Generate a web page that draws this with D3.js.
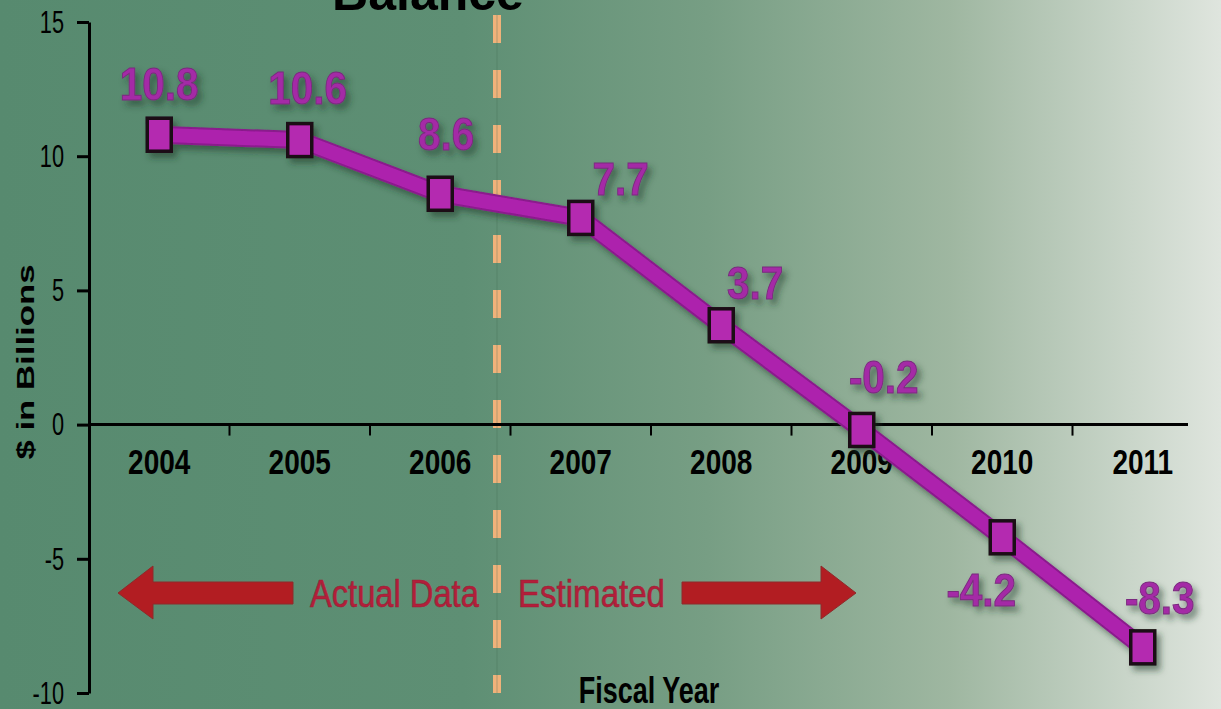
<!DOCTYPE html>
<html>
<head>
<meta charset="utf-8">
<script src="https://cdn.jsdelivr.net/npm/d3@7"></script>
<style>
  html, body { margin: 0; padding: 0; overflow: hidden; }
  svg { display: block; }
  text { font-family: "Liberation Sans", Arial, sans-serif; }
</style>
</head>
<body>
<svg id="chart"></svg>
<script>
// data
var years = ["2004", "2005", "2006", "2007", "2008", "2009", "2010", "2011"];
var balance = [10.8, 10.6, 8.6, 7.7, 3.7, -0.2, -4.2, -8.3];
var yTicks = [-10, -5, 0, 5, 10, 15];
// where each value label sits relative to its marker (dx, baseline dy)
var labelDx = [0, 8, 6, 40, 34, 22, -21, 17];
var labelDy = [-35, -36, -44, -23, -26, -37, 69, -33];

var width = 1221,
    height = 709;

var svg = d3.select("#chart")
    .attr("width", width)
    .attr("height", height);

var defs = svg.append("defs");

var bg = defs.append("linearGradient")
    .attr("id", "bg")
    .attr("x1", "0%").attr("x2", "100%")
    .attr("y1", "0%").attr("y2", "0%");
bg.append("stop").attr("offset", "0%").attr("stop-color", "#578a6f");
bg.append("stop").attr("offset", "38%").attr("stop-color", "#5e8f74");
bg.append("stop").attr("offset", "58%").attr("stop-color", "#779e84");
bg.append("stop").attr("offset", "78%").attr("stop-color", "#9fb7a1");
bg.append("stop").attr("offset", "100%").attr("stop-color", "#dfe5de");

var shadow = defs.append("filter")
    .attr("id", "shadow")
    .attr("x", "-20%").attr("y", "-20%")
    .attr("width", "160%").attr("height", "160%");
shadow.append("feDropShadow")
    .attr("dx", 4).attr("dy", 5)
    .attr("stdDeviation", 3)
    .attr("flood-color", "#1e3a2a")
    .attr("flood-opacity", 0.55);

svg.append("rect")
    .attr("width", width)
    .attr("height", height)
    .attr("fill", "url(#bg)");

var x = d3.scaleBand()
    .domain(years)
    .range([89, 1213])
    .padding(0);

var y = d3.scaleLinear()
    .domain([-10, 15])
    .range([693, 22]);

// text squeezed sideways, the picture's fonts are narrow
function label(px, py, sx, txt) {
    return svg.append("text")
        .attr("transform", "translate(" + px + "," + py + ")scale(" + sx + ",1)")
        .text(txt);
}

// title, cut off at the top as in the original
svg.append("text")
    .attr("x", 428)
    .attr("y", 10)
    .attr("text-anchor", "middle")
    .style("font-weight", "bold")
    .style("font-size", "50px")
    .attr("fill", "#000")
    .text("Balance");

// dashed divider between actual and estimated
svg.append("line")
    .attr("x1", 497).attr("x2", 497)
    .attr("y1", 15).attr("y2", y(-10))
    .attr("stroke", "#f0b27a")
    .attr("stroke-width", 8)
    .attr("stroke-dasharray", "28,27");
svg.append("line")
    .attr("x1", 497).attr("x2", 497)
    .attr("y1", 15).attr("y2", y(-10))
    .attr("stroke", "#3e6a50")
    .attr("stroke-opacity", 0.35)
    .attr("stroke-width", 1);

// y axis
var yAxis = svg.append("g")
    .attr("transform", "translate(89,0)")
    .call(d3.axisLeft(y)
        .tickValues(yTicks)
        .tickFormat(function (d) { return String(d); })
        .tickSize(12)
        .tickPadding(13)
        .tickSizeOuter(0));
yAxis.select(".domain").attr("stroke", "#000").attr("stroke-width", 3);
yAxis.selectAll(".tick line").attr("stroke", "#000").attr("stroke-width", 3);
yAxis.selectAll(".tick text")
    .attr("x", -25 / 0.68)
    .attr("transform", "scale(0.68,1)")
    .style("font-size", "32px")
    .attr("fill", "#000");

// x axis at zero
var xAxis = svg.append("g")
    .attr("transform", "translate(0," + y(0) + ")")
    .call(d3.axisBottom(x).tickSize(0).tickPadding(25));
xAxis.select(".domain").remove();
xAxis.selectAll(".tick text")
    .attr("transform", "scale(0.8,1)")
    .style("font-size", "35px")
    .style("font-weight", "bold")
    .attr("fill", "#000");

svg.append("line")
    .attr("x1", 89).attr("x2", 1188)
    .attr("y1", y(0)).attr("y2", y(0))
    .attr("stroke", "#000")
    .attr("stroke-width", 3);

// tick marks between categories
svg.append("g")
    .selectAll("line")
    .data(years.slice(1))
    .enter().append("line")
    .attr("x1", function (d) { return x(d); })
    .attr("x2", function (d) { return x(d); })
    .attr("y1", y(0))
    .attr("y2", y(0) + 11)
    .attr("stroke", "#000")
    .attr("stroke-width", 2);

// axis titles
svg.append("text")
    .attr("transform", "translate(34,362)rotate(-90)scale(1.45,1)")
    .attr("text-anchor", "middle")
    .style("font-weight", "bold")
    .style("font-size", "24px")
    .attr("fill", "#000")
    .text("$ in Billions");

label(649, 703, 0.75, "Fiscal Year")
    .attr("text-anchor", "middle")
    .style("font-weight", "bold")
    .style("font-size", "36px")
    .attr("fill", "#000");

// arrows
var arrowY = 593;
function arrow(tip, tail, dir) {
    var head = 35 * dir;
    var pts = [
        [tip, arrowY],
        [tip + head, arrowY - 27],
        [tip + head, arrowY - 11],
        [tail, arrowY - 11],
        [tail, arrowY + 11],
        [tip + head, arrowY + 11],
        [tip + head, arrowY + 26]
    ];
    svg.append("path")
        .attr("d", d3.line()(pts) + "Z")
        .attr("fill", "#b21d22")
        .attr("stroke", "#8e2a2a")
        .attr("stroke-width", 1);
}
arrow(118, 293, 1);
arrow(856, 682, -1);

label(310, 607, 0.86, "Actual Data")
    .style("font-size", "38px")
    .attr("fill", "#b31e3a")
    .attr("stroke", "#9a2035")
    .attr("stroke-width", 0.6);

label(518, 607, 0.87, "Estimated")
    .style("font-size", "38px")
    .attr("fill", "#b31e3a")
    .attr("stroke", "#9a2035")
    .attr("stroke-width", 0.6);

// the series
var cx = function (i) { return x(years[i]) + x.bandwidth() / 2; };
var line = d3.line()
    .x(function (d, i) { return cx(i); })
    .y(function (d) { return y(d); });

var series = svg.append("g").attr("filter", "url(#shadow)");

series.append("path")
    .datum(balance)
    .attr("d", line)
    .attr("fill", "none")
    .attr("stroke", "#8a1a8c")
    .attr("stroke-width", 18)
    .attr("stroke-linejoin", "round");

series.append("path")
    .datum(balance)
    .attr("d", line)
    .attr("fill", "none")
    .attr("stroke", "#ad22ad")
    .attr("stroke-width", 14)
    .attr("stroke-linejoin", "round");

series.selectAll("rect")
    .data(balance)
    .enter().append("rect")
    .attr("x", function (d, i) { return cx(i) - 12; })
    .attr("y", function (d) { return y(d) - 16.5; })
    .attr("width", 24)
    .attr("height", 33)
    .attr("fill", "#b42ab0")
    .attr("stroke", "#1a0a14")
    .attr("stroke-width", 3.5);

// value labels
svg.append("g")
    .attr("filter", "url(#shadow)")
    .selectAll("text")
    .data(balance)
    .enter().append("text")
    .attr("transform", function (d, i) {
        return "translate(" + (cx(i) + labelDx[i]) + "," + (y(d) + labelDy[i]) + ")scale(0.88,1)";
    })
    .attr("text-anchor", "middle")
    .style("font-size", "46px")
    .style("font-weight", "bold")
    .attr("fill", "#a42aa6")
    .attr("stroke", "#7a2a7e")
    .attr("stroke-width", 1)
    .text(function (d) { return d.toFixed(1); });
</script>
</body>
</html>
